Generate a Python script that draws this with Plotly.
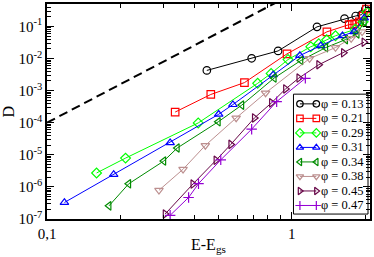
import plotly.graph_objects as go

# ---- data ----
phi_labels = ["0.13", "0.21", "0.29", "0.31", "0.34", "0.38", "0.45", "0.47"]

x_013 = [0.450, 0.686, 0.880, 1.269, 1.644, 1.826, 1.931, 2.00]
y_013 = [4.27e-3, 1.02e-2, 1.73e-2, 9.72e-2, 0.175, 0.212, 0.233, 0.349]

x_021 = [0.334, 0.467, 0.641, 0.957, 1.393, 1.717, 1.77, 1.81, 1.89, 1.96, 2.02]
y_021 = [2.15e-4, 7.6e-4, 1.78e-3, 1.40e-2, 6.81e-2, 0.1145, 0.116, 0.120, 0.139, 0.21, 0.35]

x_029 = [0.1594, 0.2094, 0.415, 0.726, 0.824, 0.966, 1.197, 1.29, 1.39, 1.51, 1.82, 1.96, 2.03]
y_029 = [2.72e-6, 7.9e-6, 9.86e-5, 1.69e-3, 3.44e-3, 9.3e-3, 2.34e-2, 2.9e-2, 3.83e-2, 5.13e-2, 8.13e-2, 0.139, 0.28]

x_031 = [0.1178, 0.1873, 0.3186, 0.503, 0.575, 0.840, 1.08, 1.314, 1.613, 1.80, 1.98]
y_031 = [3.27e-7, 2.45e-6, 2.38e-5, 1.83e-4, 3.67e-4, 3.1e-3, 1.24e-2, 2.52e-2, 5.13e-2, 6.8e-2, 0.184]

x_034 = [0.1792, 0.2157, 0.300, 0.3406, 0.501, 0.625, 0.848, 1.09, 1.377, 1.66, 1.85, 1.98]
y_034 = [2.57e-7, 1.25e-6, 6.4e-6, 1.63e-5, 1.07e-4, 3.54e-4, 2.47e-3, 8.7e-3, 2.19e-2, 3.9e-2, 5.9e-2, 0.139]

x_038 = [0.2868, 0.3597, 0.4436, 0.593, 0.782, 1.183, 1.51, 1.75, 1.94]
y_038 = [7.85e-7, 3.54e-6, 1.96e-5, 1.41e-4, 8.5e-4, 1.0e-2, 2.2e-2, 4.2e-2, 6.8e-2]

x_045 = [0.304, 0.3948, 0.4906, 0.564, 0.704, 0.827, 0.944, 1.070, 1.29, 1.628, 1.975]
y_045 = [1.43e-7, 1.23e-6, 6.76e-6, 2.11e-5, 1.41e-4, 4.17e-4, 1.13e-3, 2.47e-3, 6.4e-3, 1.51e-2, 3.23e-2]

x_047 = [0.3186, 0.379, 0.416, 0.513, 0.686, 0.868, 1.137]
y_047 = [1.30e-7, 4.68e-7, 1.26e-6, 6.97e-6, 6.3e-5, 4.54e-4, 2.42e-3]

# dashed guide line D ~ (E-Egs)^4
dash_x = [0.1, 1.0]
dash_y = [1e-4, 1.0]

x_ticks = [0.1, 1]
x_ticktext = ["0,1", "1"]
x_minor = [0.2, 0.3, 0.4, 0.5, 0.6, 0.7, 0.8, 0.9, 2]
y_ticks = [1e-7, 1e-6, 1e-5, 1e-4, 1e-3, 1e-2, 1e-1]
y_ticktext = ["10<sup>-7</sup>", "10<sup>-6</sup>", "10<sup>-5</sup>", "10<sup>-4</sup>",
              "10<sup>-3</sup>", "10<sup>-2</sup>", "10<sup>-1</sup>"]
y_minor = [m * 10.0 ** e for e in range(-7, 0) for m in range(2, 10)]

colors = ["#000000", "#ff0000", "#00ff00", "#0000ff", "#008b00", "#bc8f8f", "#670748", "#9400d3"]
symbols = ["circle-open", "square-open", "diamond-open", "triangle-up-open",
           "triangle-left-open", "triangle-down-open", "triangle-right-open", "cross-thin-open"]
xs_all = [x_013, x_021, x_029, x_031, x_034, x_038, x_045, x_047]
ys_all = [y_013, y_021, y_029, y_031, y_034, y_038, y_045, y_047]

FONT = "Liberation Serif"
W, H = 374, 257
ML, MR, MT, MB = 47, 2, 2, 38
PW, PH = W - ML - MR, H - MT - MB   # plot area in pixels

fig = go.Figure()
fig.add_trace(go.Scatter(x=dash_x, y=dash_y, mode="lines", showlegend=False,
                         line=dict(color="black", width=2, dash="9px,5px")))
for xs, ys, col, sym, lab in zip(xs_all, ys_all, colors, symbols, phi_labels):
    fig.add_trace(go.Scatter(
        x=xs, y=ys, mode="lines+markers", name="\u03c6 = " + lab, showlegend=False,
        line=dict(color=col, width=1),
        marker=dict(symbol=sym, size=7.5, color=col, line=dict(color=col, width=1.2)),
    ))

# ---- legend drawn on a pixel overlay axis (x2/y2 measured from plot-area top-left) ----
leg_left, leg_right, leg_top, leg_bottom = 248, PW - 2, 91, PH - 5
row0, row_step = 100.8, 14.65
samp_x0, samp_x1, text_x = 254.5, 271, 274
annotations = []
for i, (col, sym, lab) in enumerate(zip(colors, symbols, phi_labels)):
    ry = row0 + i * row_step
    fig.add_trace(go.Scatter(
        x=[samp_x0, samp_x1], y=[ry, ry], xaxis="x2", yaxis="y2",
        mode="lines+markers", showlegend=False, hoverinfo="skip",
        line=dict(color=col, width=1),
        marker=dict(symbol=sym, size=6.5, color=col, line=dict(color=col, width=1.2)),
    ))
    annotations.append(dict(
        x=text_x, y=ry, xref="x2", yref="y2", xanchor="left", yanchor="middle",
        text="\u03c6 = " + lab, showarrow=False,
        font=dict(family=FONT, size=12.5, color="black"),
    ))

# axis titles
annotations.append(dict(x=0.5, y=0, xref="paper", yref="paper", yshift=-26,
                        xanchor="center", yanchor="middle", showarrow=False,
                        text="E-E<sub>gs</sub>", font=dict(family=FONT, size=16, color="black")))
annotations.append(dict(x=0, y=0.5, xref="paper", yref="paper", xshift=-39,
                        xanchor="center", yanchor="middle", showarrow=False, textangle=-90,
                        text="D", font=dict(family=FONT, size=16, color="black")))

fig.update_layout(
    width=W, height=H, autosize=False,
    margin=dict(l=ML, r=MR, t=MT, b=MB),
    paper_bgcolor="white", plot_bgcolor="white",
    font=dict(family=FONT, size=15, color="black"),
    showlegend=False,
    annotations=annotations,
    shapes=[dict(type="rect", xref="x2", yref="y2",
                 x0=leg_left, x1=leg_right, y0=leg_top, y1=leg_bottom,
                 line=dict(color="black", width=1), fillcolor="white", layer="below")],
    xaxis2=dict(overlaying="x", range=[0, PW], visible=False, fixedrange=True),
    yaxis2=dict(overlaying="y", range=[PH, 0], visible=False, fixedrange=True),
    xaxis=dict(
        type="log", range=[-1, 0.32],
        tickvals=x_ticks, ticktext=x_ticktext,
        ticks="inside", ticklen=7, tickwidth=1, tickcolor="black",
        minor=dict(tickvals=x_minor, ticks="inside", ticklen=4, tickcolor="black", showgrid=False),
        showline=True, linecolor="black", linewidth=1.5, mirror="ticks",
        showgrid=False, zeroline=False,
        tickfont=dict(family=FONT, size=15),
    ),
    yaxis=dict(
        type="log", range=[-7, -0.30],
        tickvals=y_ticks, ticktext=y_ticktext,
        ticks="inside", ticklen=7, tickwidth=1, tickcolor="black",
        minor=dict(tickvals=y_minor, ticks="inside", ticklen=4, tickcolor="black", showgrid=False),
        showline=True, linecolor="black", linewidth=1.5, mirror="ticks",
        showgrid=False, zeroline=False,
        tickfont=dict(family=FONT, size=15),
    ),
)

fig.write_html("out.html", config={"displayModeBar": False},
               post_script="document.body.style.margin='0';document.body.style.overflow='hidden';")
